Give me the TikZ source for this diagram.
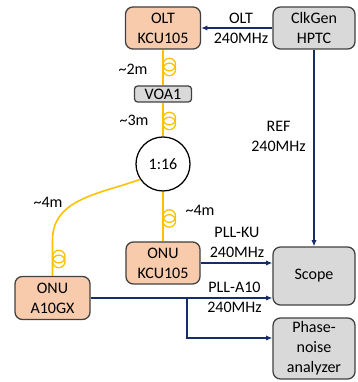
\documentclass[tikz,border=0pt]{standalone}
\usepackage{fontspec}
\setmainfont{Carlito}
\usepackage{tikz}
\usetikzlibrary{arrows.meta,positioning,calc}
\definecolor{onuorange}{RGB}{248,203,173}
\definecolor{instgray}{RGB}{217,217,217}
\definecolor{fiberyellow}{RGB}{255,192,0}
\definecolor{clkblue}{RGB}{22,45,105}
\definecolor{boxedge}{RGB}{64,64,64}
\tikzset{
  board/.style={draw=boxedge, fill=onuorange, line width=1.2pt, rounded corners=7pt, minimum width=2.5cm, minimum height=1.4cm, align=center},
  instr/.style={draw=boxedge, fill=instgray, line width=1.2pt, rounded corners=7pt, minimum width=2.733cm, align=center},
  fiber/.style={draw=fiberyellow, line width=1.5pt},
  clk/.style={draw=clkblue, line width=1.5pt, -{Latex[length=6pt,width=5pt]}},
  lbl/.style={align=center, inner sep=0pt}
}
\newcommand{\fibercoil}[1]{%
  \draw[fiber, line width=1.2pt] ($(#1)+(0.21,0.08)$) circle (0.21) ($(#1)+(0.21,-0.08)$) circle (0.21);}

\begin{document}
\begin{tikzpicture}[font=\fontsize{15.2}{19}\selectfont]
  \useasboundingbox (0,0) rectangle (11.9,12.733);
  % boxes
  \node[board] (olt) at (5.433,11.8) {OLT\\KCU105};
  \node[instr, minimum height=1.4cm] (clkgen) at (10.467,11.8) {ClkGen\\HPTC};
  \node[draw=boxedge, fill=instgray, line width=1.2pt, rounded corners=3pt, minimum width=1.9cm, minimum height=0.533cm, inner sep=0pt] (voa) at (5.433,9.6) {VOA1};
  \node[circle, draw=black, fill=white, line width=1.2pt, minimum size=1.8cm] (split) at (5.433,7.267) {1:16};
  \node[board, minimum width=2.467cm] (kcu) at (5.433,3.967) {ONU\\KCU105};
  \node[board, minimum height=1.433cm] (a10) at (1.75,2.8) {ONU\\A10GX};
  \node[instr, minimum height=1.933cm] (scope) at (10.467,3.533) {Scope};
  \node[instr, minimum height=2.033cm] (pna) at (10.467,1.117) {Phase-\\noise\\analyzer};

  % fibers
  \draw[fiber] (olt) -- (voa) -- (split) -- (kcu);
  \coordinate (bend) at (1.75,4.733);
  \draw[fiber] (split.214) to[out=200, in=90] (bend) -- (a10.north);
  \coordinate (coilA) at (5.433,10.5);
  \coordinate (coilB) at (5.433,8.7);
  \coordinate (coilC) at (5.433,5.45);
  \coordinate (coilD) at (1.75,4.1);
  \fibercoil{coilA}
  \fibercoil{coilB}
  \fibercoil{coilC}
  \fibercoil{coilD}
  \node (lenA) at (4.433,10.433) {\textasciitilde 2m};
  \node (lenB) at (4.467,8.733) {\textasciitilde 3m};
  \node (lenC) at (6.667,5.733) {\textasciitilde 4m};
  \node (lenD) at (1.6,6.0) {\textasciitilde 4m};

  % clocks
  \draw[clk] (clkgen) -- (olt);
  \node[lbl] (oltclk) at (8.033,11.8) {OLT\\240MHz};
  \draw[clk] (clkgen) -- (scope);
  \node[lbl] (refclk) at (9.283,8.2) {REF\\240MHz};
  \draw[clk] (kcu.east) -- (kcu.east -| scope.west);
  \node[lbl] (kuclk) at (7.9,4.667) {PLL-KU\\240MHz};
  \draw[clk] (a10.east) -- (a10.east -| scope.west);
  \node[lbl] (a10clk) at (7.817,2.833) {PLL-A10\\240MHz};
  \coordinate (tap) at (6.233,2.8);
  \coordinate (pnain) at ($(pna.west)+(0,0.35)$);
  \draw[clk] (tap) |- (pnain);
\end{tikzpicture}
\end{document}
